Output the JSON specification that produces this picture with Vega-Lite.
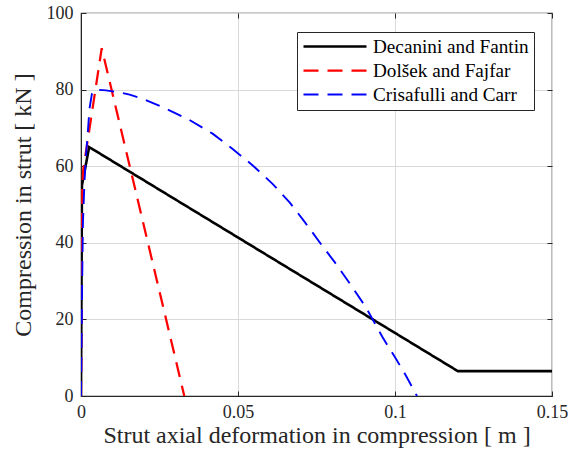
{
  "$schema": "https://vega.github.io/schema/vega-lite/v6.json",
  "autosize": "none",
  "padding": {"left": 81, "top": 13, "right": 21, "bottom": 68},
  "width": 471,
  "height": 383,
  "background": "white",
  "config": {
    "font": "Liberation Serif, Times New Roman, serif",
    "view": {"stroke": "#262626", "strokeWidth": 1.2},
    "axis": {
      "labelFont": "Liberation Serif, Times New Roman, serif",
      "titleFont": "Liberation Serif, Times New Roman, serif",
      "labelFontSize": 18,
      "titleFontSize": 24,
      "titleFontWeight": "normal",
      "labelColor": "#262626",
      "titleColor": "#262626",
      "gridColor": "#d9d9d9",
      "gridWidth": 1,
      "domainColor": "#262626",
      "tickColor": "#262626",
      "tickSize": -5,
      "labelFlush": false
    },
    "legend": {
      "labelFont": "Liberation Serif, Times New Roman, serif",
      "labelFontSize": 19.2,
      "labelColor": "#000000"
    }
  },
  "data": {
    "values": [
      {"s": "Decanini and Fantin", "i": 0, "x": 0, "y": 0},
      {"s": "Decanini and Fantin", "i": 1, "x": 0.0003, "y": 55},
      {"s": "Decanini and Fantin", "i": 2, "x": 0.0026, "y": 65},
      {"s": "Decanini and Fantin", "i": 3, "x": 0.12, "y": 6.5},
      {"s": "Decanini and Fantin", "i": 4, "x": 0.15, "y": 6.5},
      {"s": "Dolšek and Fajfar", "i": 0, "x": 0, "y": 0},
      {"s": "Dolšek and Fajfar", "i": 1, "x": 0.0004, "y": 54},
      {"s": "Dolšek and Fajfar", "i": 2, "x": 0.0007, "y": 59},
      {"s": "Dolšek and Fajfar", "i": 3, "x": 0.0066, "y": 90.8},
      {"s": "Dolšek and Fajfar", "i": 4, "x": 0.0329, "y": 0},
      {"s": "Crisafulli and Carr", "i": 0, "x": 0, "y": 0},
      {"s": "Crisafulli and Carr", "i": 1, "x": 0.0003, "y": 25},
      {"s": "Crisafulli and Carr", "i": 2, "x": 0.0006, "y": 45},
      {"s": "Crisafulli and Carr", "i": 3, "x": 0.0011, "y": 56},
      {"s": "Crisafulli and Carr", "i": 4, "x": 0.0016, "y": 63},
      {"s": "Crisafulli and Carr", "i": 5, "x": 0.0021, "y": 68},
      {"s": "Crisafulli and Carr", "i": 6, "x": 0.0027, "y": 75},
      {"s": "Crisafulli and Carr", "i": 7, "x": 0.0035, "y": 79},
      {"s": "Crisafulli and Carr", "i": 8, "x": 0.0045, "y": 80},
      {"s": "Crisafulli and Carr", "i": 9, "x": 0.008, "y": 79.8},
      {"s": "Crisafulli and Carr", "i": 10, "x": 0.012, "y": 79.3},
      {"s": "Crisafulli and Carr", "i": 11, "x": 0.0155, "y": 78.7},
      {"s": "Crisafulli and Carr", "i": 12, "x": 0.0197, "y": 77.6},
      {"s": "Crisafulli and Carr", "i": 13, "x": 0.0271, "y": 75.0},
      {"s": "Crisafulli and Carr", "i": 14, "x": 0.0345, "y": 72.1},
      {"s": "Crisafulli and Carr", "i": 15, "x": 0.0419, "y": 68.5},
      {"s": "Crisafulli and Carr", "i": 16, "x": 0.0483, "y": 64.5},
      {"s": "Crisafulli and Carr", "i": 17, "x": 0.0547, "y": 60.2},
      {"s": "Crisafulli and Carr", "i": 18, "x": 0.061, "y": 55.4},
      {"s": "Crisafulli and Carr", "i": 19, "x": 0.0665, "y": 50.5},
      {"s": "Crisafulli and Carr", "i": 20, "x": 0.0711, "y": 45.6},
      {"s": "Crisafulli and Carr", "i": 21, "x": 0.0764, "y": 39.7},
      {"s": "Crisafulli and Carr", "i": 22, "x": 0.0812, "y": 34.5},
      {"s": "Crisafulli and Carr", "i": 23, "x": 0.086, "y": 28.9},
      {"s": "Crisafulli and Carr", "i": 24, "x": 0.0907, "y": 23.2},
      {"s": "Crisafulli and Carr", "i": 25, "x": 0.096, "y": 15.4},
      {"s": "Crisafulli and Carr", "i": 26, "x": 0.1003, "y": 9.7},
      {"s": "Crisafulli and Carr", "i": 27, "x": 0.1035, "y": 5.3},
      {"s": "Crisafulli and Carr", "i": 28, "x": 0.107, "y": 0}
    ]
  },
  "layer": [
    {
      "mark": {"type": "line", "clip": true},
      "encoding": {
        "x": {
          "field": "x", "type": "quantitative",
          "scale": {"domain": [0, 0.15], "nice": false, "zero": false},
          "axis": {"orient": "bottom", "values": [0, 0.05, 0.1, 0.15], "labelExpr": "'' + datum.value", "title": "Strut axial deformation in compression [ m ]", "labelPadding": 12, "titlePadding": 2}
        },
        "y": {
          "field": "y", "type": "quantitative",
          "scale": {"domain": [0, 100], "nice": false},
          "axis": {"orient": "left", "values": [0, 20, 40, 60, 80, 100], "format": "d", "title": "Compression in strut [ kN ]", "labelPadding": 13, "titlePadding": 11}
        },
        "order": {"field": "i", "type": "quantitative"},
        "color": {
          "field": "s", "type": "nominal",
          "scale": {"domain": ["Decanini and Fantin", "Dolšek and Fajfar", "Crisafulli and Carr"], "range": ["#000000", "#ff0000", "#0000ff"]},
          "legend": {
            "title": null,
            "orient": "none",
            "legendX": 216,
            "legendY": 19,
            "symbolType": "stroke",
            "symbolSize": 3969,
            "clipHeight": 19,
            "labelFont": "Liberation Serif, Times New Roman, serif",
            "labelFontSize": 19.2,
            "fillColor": "white",
            "strokeColor": "#262626",
            "padding": 5,
            "rowPadding": 4,
            "labelOffset": 5
          }
        },
        "strokeDash": {
          "field": "s", "type": "nominal",
          "scale": {"domain": ["Decanini and Fantin", "Dolšek and Fajfar", "Crisafulli and Carr"], "range": [[1, 0], [15, 9], [15, 9]]},
          "legend": null
        },
        "strokeWidth": {
          "field": "s", "type": "nominal",
          "scale": {"domain": ["Decanini and Fantin", "Dolšek and Fajfar", "Crisafulli and Carr"], "range": [2.6, 1.9, 1.9]},
          "legend": null
        }
      }
    },
    {
      "mark": {"type": "point", "opacity": 0},
      "encoding": {
        "x": {
          "field": "x", "type": "quantitative",
          "axis": {"orient": "top", "values": [0, 0.05, 0.1, 0.15], "labels": false, "grid": false, "domain": false, "title": null}
        },
        "y": {
          "field": "y", "type": "quantitative",
          "axis": {"orient": "right", "values": [0, 20, 40, 60, 80, 100], "labels": false, "grid": false, "domain": false, "title": null}
        }
      }
    }
  ],
  "resolve": {"axis": {"x": "independent", "y": "independent"}}
}
